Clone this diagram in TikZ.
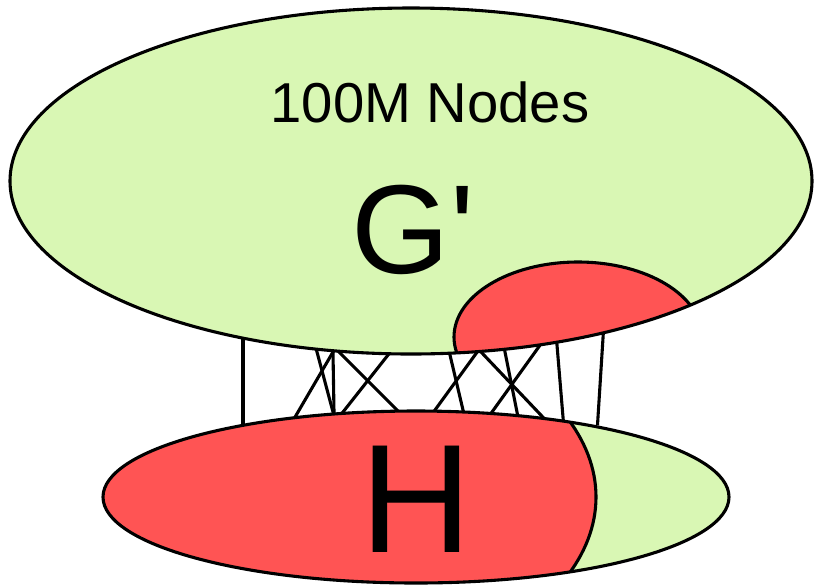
\documentclass[tikz,border=0pt]{standalone}
\usepackage{fontspec}
\usepackage{tikz}
\newfontfamily\labelfont{Liberation Sans}
\definecolor{lightgreen}{RGB}{217, 247, 180}
\definecolor{softred}{RGB}{255, 84, 84}
\usetikzlibrary{calc}

\begin{document}
\begin{tikzpicture}[
    x=0.025cm, y=-0.025cm,
    outline/.style={draw=black, line width=2.2pt},
    link/.style={draw=black, line width=2.2pt, shorten <=-6pt, shorten >=-6pt},
    bigtext/.style={anchor=base, inner sep=0pt, text=black}
]
    \useasboundingbox (0,0) rectangle (815,587);

    % Links between the two graphs (drawn first, ellipses cover the ends)
    \foreach \i/\xa/\ya/\xb/\yb in {1/243/332/243/424, 2/317/352/333/412, 3/333/352/298/412,
        4/333/353/334/412, 5/342/355/397/410, 6/388/355/343/412, 7/450/355/463/410,
        8/475/355/435/410, 9/482/353/538/412, 10/505/352/517/412, 11/538/348/492/412,
        12/557/345/563/417, 13/603/338/598/417} {
        \coordinate (top\i) at (\xa,\ya);
        \coordinate (bot\i) at (\xb,\yb);
        \draw[link] (top\i) -- (bot\i);
    }

    % Big graph G'
    \fill[lightgreen] (411,181) ellipse [x radius=401, y radius=173];
    \begin{scope}
        \clip (411,181) ellipse [x radius=401, y radius=173];
        \draw[outline, fill=softred] (578,337) ellipse [x radius=124, y radius=75];
    \end{scope}
    \draw[outline] (411,181) ellipse [x radius=401, y radius=173];

    % Small graph H
    \fill[lightgreen] (416,497) ellipse [x radius=313, y radius=86];
    \begin{scope}
        \clip (416,497) ellipse [x radius=313, y radius=86];
        \draw[outline, fill=softred] (200,497) ellipse [x radius=396, y radius=211];
    \end{scope}
    \draw[outline] (416,497) ellipse [x radius=313, y radius=86];

    % Labels
    \node[bigtext, font=\labelfont\fontsize{40}{48}\selectfont] (nodes) at (430,122) {100M Nodes};
    \node[bigtext, font=\labelfont\fontsize{90}{100}\selectfont] (gprime) at (413,273) {G'};
    \node[bigtext, font=\labelfont\fontsize{110}{120}\selectfont] (hlabel) at (416,552) {H};
\end{tikzpicture}
\end{document}
